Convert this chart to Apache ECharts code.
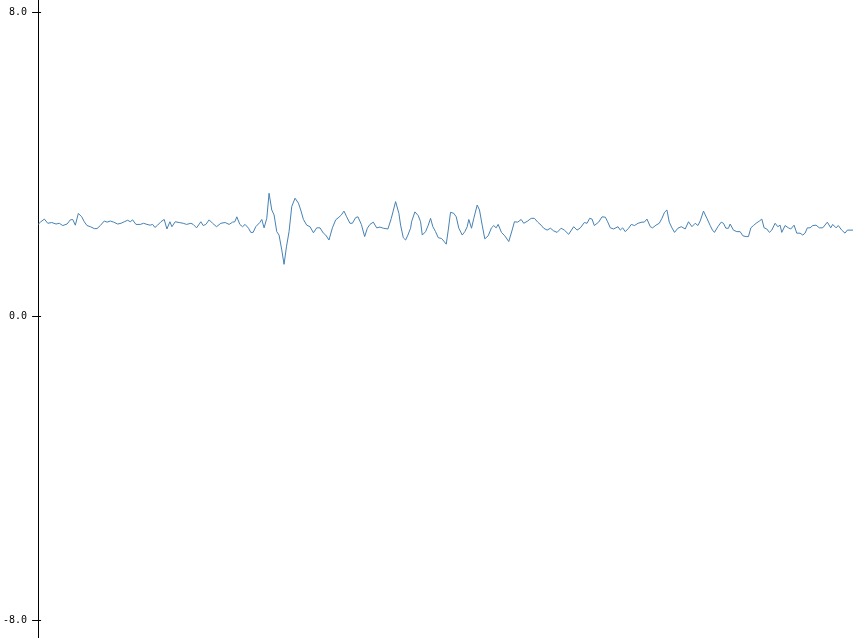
<!DOCTYPE html>
<html>
<head>
<meta charset="utf-8">
<script src="https://cdn.jsdelivr.net/npm/echarts@6/dist/echarts.min.js"></script>
<style>
html,body{margin:0;padding:0;background:#fff;}
#chart{width:853px;height:638px;}
</style>
</head>
<body>
<div id="chart"></div>
<script>
// sample positions (arbitrary x units, axis spans 0..816)
const sampleX = [
0,2.3,6.3,9.7,13.7,18,21.3,24.7,29,32.3,34.7,37.3,40.3,43.7,46.3,49,52.3,56.3,59,62.3,
66.3,69,72.3,75.7,79.7,83,86.3,89.7,92.3,94.7,98,102.3,105.7,109,112.3,114.7,117,119.7,123,126.3,
129,132,134,137.3,141.3,145.3,148.7,153,155.3,158.7,163,165.3,168,171.3,174.7,178.7,183,187.3,191.3,194.7,
197,199,202,204.7,207.3,210.7,213,215.3,218,222,224,226.3,229,231.3,234,236.3,239,241.3,244,246.3,
248.7,251.3,254,257.3,260.7,263,265.7,269,272.3,275.7,279,282.3,285.7,288,291.3,294.7,298,301.3,303.7,306.3,
309,312.3,314.7,318,320.3,323.7,327,329.7,332.3,335.7,339,342.3,345.7,350.3,353.7,358,361.3,363,365.7,368,
370.3,373,374,377.3,380.7,383,384.7,388,390.7,393,395.3,398,400.7,404,406.3,408.7,410.7,413,416.3,418.7,
421.3,424.7,427.3,429.7,431.3,434,436.3,439.7,442,444.7,447.3,450.7,454,456.3,458.7,460.7,464,467.3,471.3,474.7,
477,480.3,483.7,486.3,490.3,493.7,497,500.3,503.7,506.3,509.7,513,516.3,519.7,523.7,527,531.3,536.3,539.7,543,
547,549.7,552.3,554.7,557,561.3,564.7,568,570.3,573,576.3,580.7,583,585.3,588,591.3,594,597.3,600.7,604.7,
607,609.7,613,615.3,618.7,622,624.7,627.3,629.7,632,634.7,637.3,640.7,644,648,651.3,654.7,658,660.7,663,
666.3,669.7,673,675.3,677.3,680.7,684,686.3,688.7,691.3,693,696.3,699.7,703,705.7,709,711.3,713.7,716.3,719,
722.3,724.7,727,729.7,732.3,734.7,738,740.7,743,744.7,748,751.3,753.7,757,759.7,763,765.7,768,770.3,773,
775.7,779,782.3,785.7,790.3,793.7,795.7,799,801.3,804.7,808,810.3,816
];
const sampleY = [
2.41,2.47,2.55,2.44,2.46,2.42,2.44,2.38,2.42,2.53,2.54,2.39,2.70,2.61,2.48,2.38,2.35,2.30,2.30,2.38,
2.50,2.47,2.50,2.47,2.42,2.44,2.48,2.52,2.48,2.53,2.41,2.41,2.44,2.41,2.39,2.41,2.33,2.39,2.48,2.54,
2.29,2.48,2.35,2.48,2.46,2.44,2.41,2.44,2.41,2.32,2.48,2.38,2.41,2.53,2.44,2.35,2.44,2.46,2.41,2.47,
2.48,2.61,2.41,2.35,2.41,2.31,2.20,2.20,2.35,2.46,2.54,2.32,2.57,3.23,2.79,2.66,2.22,2.13,1.74,1.36,
1.82,2.22,2.88,3.10,2.97,2.79,2.54,2.39,2.35,2.19,2.32,2.32,2.18,2.13,2.00,2.32,2.53,2.60,2.66,2.76,
2.61,2.44,2.44,2.59,2.61,2.41,2.09,2.31,2.41,2.47,2.32,2.34,2.31,2.29,2.57,3.01,2.70,2.39,2.06,2.00,
2.13,2.31,2.48,2.74,2.64,2.48,2.13,2.22,2.39,2.57,2.35,2.22,2.06,2.04,1.97,1.89,2.26,2.73,2.70,2.61,
2.31,2.13,2.22,2.35,2.54,2.31,2.57,2.92,2.79,2.39,2.03,2.11,2.32,2.38,2.32,2.41,2.20,2.11,1.96,2.26,
2.48,2.47,2.54,2.44,2.50,2.57,2.57,2.47,2.39,2.31,2.26,2.31,2.24,2.20,2.31,2.26,2.15,2.35,2.26,2.32,
2.46,2.44,2.57,2.55,2.38,2.47,2.61,2.60,2.48,2.32,2.29,2.35,2.26,2.32,2.22,2.31,2.41,2.38,2.44,2.47,
2.47,2.55,2.35,2.32,2.39,2.44,2.57,2.73,2.79,2.47,2.32,2.20,2.31,2.35,2.29,2.48,2.35,2.44,2.38,2.50,
2.76,2.57,2.38,2.26,2.20,2.35,2.47,2.44,2.31,2.31,2.42,2.26,2.22,2.22,2.11,2.09,2.09,2.32,2.38,2.44,
2.50,2.55,2.32,2.29,2.20,2.26,2.44,2.35,2.39,2.20,2.38,2.32,2.29,2.39,2.18,2.18,2.13,2.18,2.32,2.32,
2.38,2.39,2.32,2.32,2.47,2.32,2.41,2.32,2.38,2.26,2.18,2.26,2.26
];
const yTicks = [-8, 0, 8];
const yMin = -8.474, yMax = 8.316;

const points = sampleX.map((x, i) => [x, sampleY[i]]);

const chart = echarts.init(document.getElementById('chart'), null, {renderer: 'canvas'});
chart.setOption({
  animation: false,
  backgroundColor: '#ffffff',
  grid: {left: 36, right: 0, top: 0, bottom: 0, containLabel: false},
  xAxis: {
    type: 'value', min: 0, max: 816, show: false
  },
  yAxis: [{
    type: 'value', min: yMin, max: yMax, position: 'left',
    splitLine: {show: false},
    axisLine: {show: true, onZero: false, lineStyle: {color: '#000', width: 1}},
    axisTick: {show: true, inside: false, length: 6, customValues: yTicks, lineStyle: {color: '#000'}},
    axisLabel: {
      show: true, customValues: yTicks, margin: 11,
      fontFamily: 'DejaVu Sans Mono', fontSize: 10, color: '#000',
      formatter: v => Number(v).toFixed(1)
    }
  }, {
    type: 'value', min: yMin, max: yMax, position: 'left',
    splitLine: {show: false},
    axisLine: {show: false},
    axisTick: {show: true, inside: true, length: 3, customValues: yTicks, lineStyle: {color: '#000'}},
    axisLabel: {show: false}
  }],
  series: [{
    type: 'line',
    data: points,
    showSymbol: false,
    symbol: 'none',
    lineStyle: {color: '#4682b4', width: 1},
    itemStyle: {color: '#4682b4'}
  }]
});
</script>
</body>
</html>
